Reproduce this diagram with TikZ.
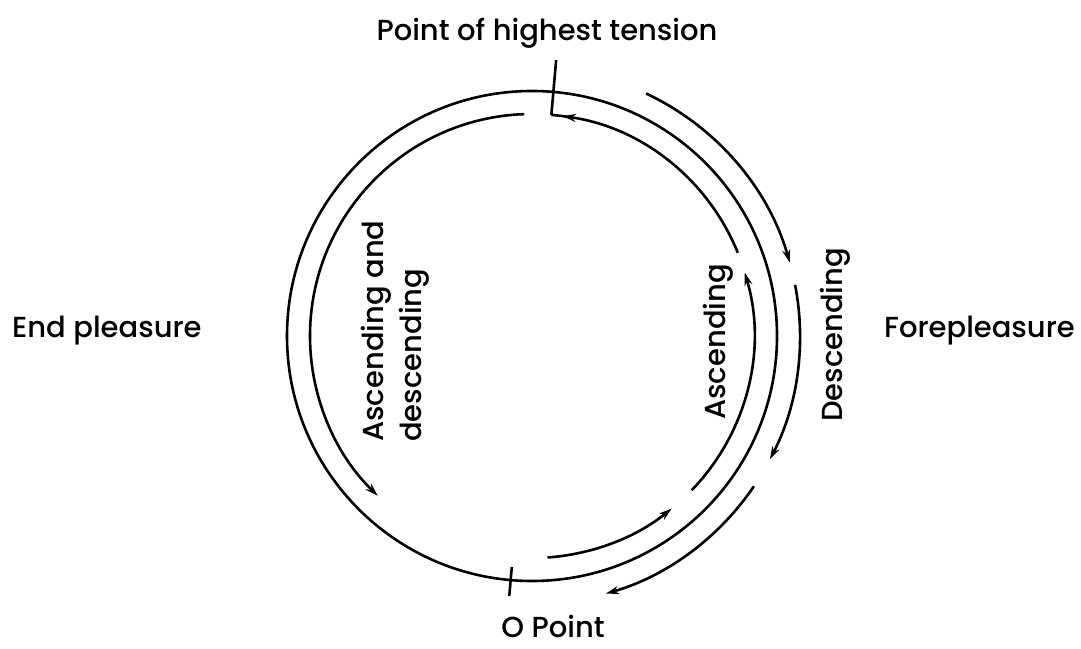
\documentclass[tikz,border=0pt]{standalone}
\usepackage{fontspec}
\setmainfont{Poppins}[UprightFont={* Medium}]
\usetikzlibrary{arrows.meta}
\begin{document}
\begin{tikzpicture}[x=1pt,y=1pt,
  ln/.style={line width=2.6pt},
  arr/.style={ln,-{Stealth[length=13pt,width=8pt]}},
  lbl/.style={inner sep=0pt,font=\fontsize{29}{34}\selectfont}]
\useasboundingbox (0,0) rectangle (1081,648);
\coordinate (C) at (532,312);
% main circle
\draw[ln] (C) circle[radius=245];
% ticks
\draw[ln] ([shift={(C)}]85:222) -- ([shift={(C)}]85:277);
\draw[ln] ([shift={(C)}]265:232) -- ([shift={(C)}]265:261);
% inner track
\draw[arr] ([shift={(C)}]92:222) arc[start angle=92,end angle=226,radius=222];
\draw[arr] ([shift={(C)}]-86:222) arc[start angle=-86,end angle=-51,radius=222];
\draw[arr] ([shift={(C)}]-44:222) arc[start angle=-44,end angle=16.6,radius=222];
\draw[arr] ([shift={(C)}]22:222) arc[start angle=22,end angle=82,radius=222];
\draw[ln] ([shift={(C)}]80:222) arc[start angle=80,end angle=85,radius=222];
% outer track
\draw[arr] ([shift={(C)}]64.8:268) arc[start angle=64.8,end angle=15.9,radius=268];
\draw[arr] ([shift={(C)}]11:268) arc[start angle=11,end angle=-27.4,radius=268];
\draw[arr] ([shift={(C)}]-34.1:268) arc[start angle=-34.1,end angle=-74,radius=268];
% labels
\node[lbl,anchor=base] (top) at (547,607) {Point of highest tension};
\node[lbl,anchor=base west] (endp) at (12,310) {End pleasure};
\node[lbl,anchor=base east] (forep) at (1075,310) {Forepleasure};
\node[lbl,anchor=base] (zero) at (553,11) {O Point};
\node[lbl,rotate=90,anchor=base] (desc) at (842,313) {Descending};
\node[lbl,rotate=90,anchor=base] (asc) at (725,306) {Ascending};
\node[lbl,rotate=90,anchor=base west] (ad1) at (383,206) {Ascending and};
\node[lbl,rotate=90,anchor=base west] (ad2) at (421,206) {descending};
\end{tikzpicture}
\end{document}
